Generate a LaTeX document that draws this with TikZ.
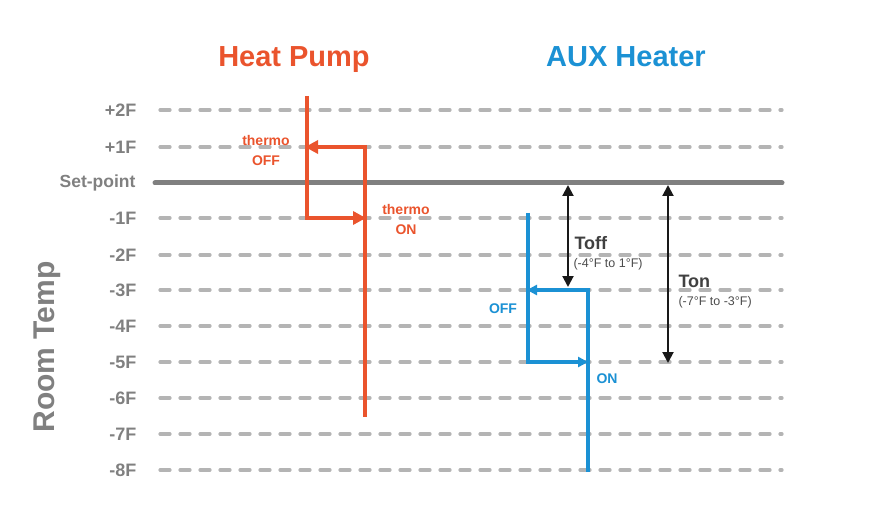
\documentclass[tikz,border=0pt]{standalone}
\usepackage{fontspec}
\setmainfont{Liberation Sans}
\usetikzlibrary{arrows.meta}
\definecolor{hp}{RGB}{234,84,45}
\definecolor{aux}{RGB}{27,145,212}
\definecolor{gr}{RGB}{128,128,128}
\definecolor{dl}{RGB}{180,180,180}
\tikzset{
  lab/.style={anchor=east,font=\bfseries\fontsize{18}{20}\selectfont,text=gr},
  grid/.style={dl,line width=3.2pt,line cap=round,dash pattern=on 10pt off 10pt},
  hpl/.style={hp,line width=3.5pt},
  auxl/.style={aux,line width=3.5pt},
  hpa/.style={hp,line width=3.5pt,-{Triangle[length=13pt,width=13pt]}},
  auxa/.style={aux,line width=3.5pt,-{Triangle[length=10pt,width=10pt]}},
  rng/.style={black!90,line width=2pt,{Triangle[length=11pt,width=11pt]}-{Triangle[length=11pt,width=11pt]}},
  ann/.style={font=\bfseries\fontsize{14}{20}\selectfont,align=center},
}
\begin{document}
\begin{tikzpicture}[x=1pt,y=-1pt]
\useasboundingbox (0,0) rectangle (895,508);
\foreach \y/\t [count=\i] in {110/+2F,147/+1F,218/-1F,255/-2F,290/-3F,326/-4F,362/-5F,398/-6F,434/-7F,470/-8F}{
  \draw[grid] (160,\y) -- (782,\y);
  \node[lab] (l\i) at (140,\y) {\t};
}
\draw[gr,line width=5pt,line cap=round] (155,183) -- (782,183);
\node[lab,font=\bfseries\fontsize{17.5}{18}\selectfont] (sp) at (139,183) {Set-point};
\node[font=\bfseries\fontsize{30}{32}\selectfont,text=gr,rotate=90] (rt) at (47,347) {Room Temp};
\node[font=\bfseries\fontsize{29}{32}\selectfont,text=hp] (t1) at (294,60) {Heat Pump};
\node[font=\bfseries\fontsize{29}{32}\selectfont,text=aux] (t2) at (626,57) {AUX Heater};
% heat pump
\coordinate (h1) at (307,96); \coordinate (h2) at (307,218); \coordinate (h3) at (366,218);
\coordinate (h4) at (365,145); \coordinate (h5) at (305,147); \coordinate (h6) at (365,417);
\draw[hpl] (h1) -- (h2);
\draw[hpa] (305.3,218) -- (h3);
\draw[hpl] (h4) -- (h6);
\draw[hpa] (366.7,147) -- (h5);
\node[ann,text=hp] (thoff) at (266,150) {thermo\\OFF};
\node[ann,text=hp] (thon) at (406,219) {thermo\\ON};
% aux
\coordinate (a1) at (528,213); \coordinate (a2) at (528,362); \coordinate (a3) at (588,362);
\coordinate (a4) at (588,290); \coordinate (a5) at (527,290); \coordinate (a6) at (588,472);
\draw[auxl] (a1) -- (a2);
\draw[auxa] (526.3,362) -- (a3);
\draw[auxl] (a4) -- (a6);
\draw[auxa] (589.7,290) -- (a5);
\node[ann,text=aux,fill=white,inner sep=4pt] (off) at (503,309) {OFF};
\node[ann,text=aux,fill=white,inner sep=4pt] (on) at (607,379) {ON};
% ranges
\coordinate (r1) at (568,185); \coordinate (r2) at (568,287);
\coordinate (r3) at (668,185); \coordinate (r4) at (668,363);
\draw[rng] (r1) -- (r2);
\draw[rng] (r3) -- (r4);
\node[font=\bfseries\fontsize{18}{20}\selectfont,text=black!75,anchor=west] (toff) at (571,243) {Toff};
\node[font=\fontsize{12.5}{14}\selectfont,text=black!70,anchor=west] (toffr) at (570,264) {(-4°F to 1°F)};
\node[font=\bfseries\fontsize{18}{20}\selectfont,text=black!75,anchor=west] (ton) at (675,281) {Ton};
\node[font=\fontsize{12.5}{14}\selectfont,text=black!70,anchor=west] (tonr) at (675,302) {(-7°F to -3°F)};
\end{tikzpicture}
\end{document}
